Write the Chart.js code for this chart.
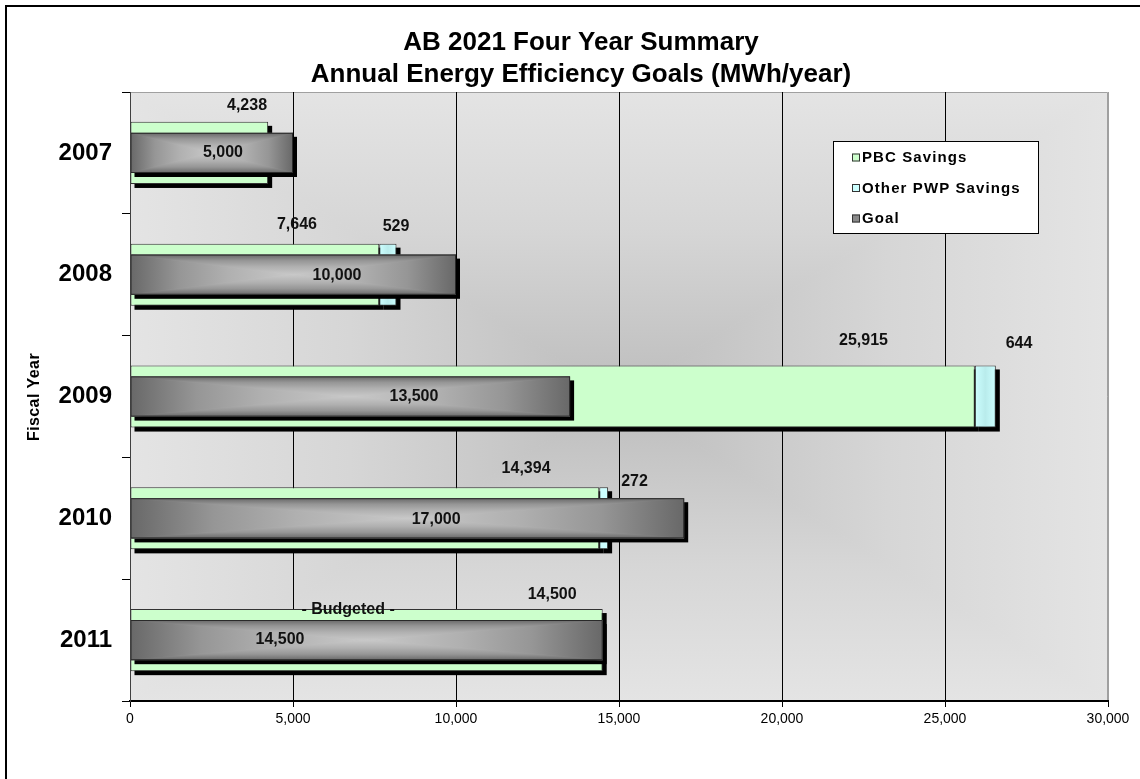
<!DOCTYPE html>
<html>
<head>
<meta charset="utf-8">
<title>AB 2021 Four Year Summary</title>
<script src="https://cdn.jsdelivr.net/npm/chart.js@4.4.1/dist/chart.umd.min.js"></script>
<style>
  html, body { margin: 0; padding: 0; background: #fff; }
  canvas { display: block; }
</style>
</head>
<body>
<canvas id="chart" width="1140" height="779"></canvas>
<script>
// ---- data (MWh/year) ----
const years = ['2007', '2008', '2009', '2010', '2011'];
const pbcSavings = [4238, 7646, 25915, 14394, 14500];
const otherPwpSavings = [0, 529, 644, 272, 0];
const goal = [5000, 10000, 13500, 17000, 14500];
const xTickValues = [0, 5000, 10000, 15000, 20000, 25000, 30000];
const yearNotes = [null, null, null, null, '- Budgeted -'];

// ---- where each value label sits: anchor on the value axis + vertical nudge (px) ----
const labelPlacement = {
  pbc:   { at: [3590, 5120, 22500, 12150, 12950], dy: [-47, -50, -56, -50, -46] },
  other: { at: [null, 8160, 27270, 15475, null],  dy: [0, -48, -53, -37, 0] },
  goal:  { at: [2850, 6350, 8710, 9390, 4600],    dy: [0, 1, 0, 1, -1] },
  note:  { at: [null, null, null, null, 6690],    dy: [0, 0, 0, 0, -31] }
};

const FONT = '"Liberation Sans", Arial, Helvetica, sans-serif';
Chart.defaults.font.family = FONT;

const fmt = v => v.toLocaleString('en-US');

// Rectangular "from centre" gradient: four wedges, each with its own linear ramp.
// stops: [offset, colour] with offset 0 = outer edge, 1 = centre.
function fillFromCenter(ctx, l, t, r, b, stops) {
  const cx = (l + r) / 2, cy = (t + b) / 2;
  const wedges = [
    [l, t, l, b, l, cy],
    [r, t, r, b, r, cy],
    [l, t, r, t, cx, t],
    [l, b, r, b, cx, b]
  ];
  ctx.save();
  ctx.beginPath();
  ctx.rect(l, t, r - l, b - t);
  ctx.clip();
  for (const [x1, y1, x2, y2, ex, ey] of wedges) {
    const g = ctx.createLinearGradient(ex, ey, cx, cy);
    stops.forEach(([o, c]) => g.addColorStop(o, c));
    ctx.beginPath();
    ctx.moveTo(x1, y1);
    ctx.lineTo(x2, y2);
    ctx.lineTo(cx, cy);
    ctx.closePath();
    ctx.fillStyle = g;
    ctx.strokeStyle = g;
    ctx.lineWidth = 1;
    ctx.fill();
    ctx.stroke();
  }
  ctx.restore();
}

function barRect(el) {
  const p = el.getProps(['x', 'y', 'base', 'height'], true);
  return {
    l: Math.min(p.x, p.base), r: Math.max(p.x, p.base),
    t: p.y - p.height / 2, b: p.y + p.height / 2
  };
}

const SHADOW = 4;

function drawShadows(chart, dsIndex) {
  const ctx = chart.ctx;
  const meta = chart.getDatasetMeta(dsIndex);
  const values = chart.data.datasets[dsIndex].data;
  ctx.save();
  ctx.fillStyle = '#000';
  meta.data.forEach((el, i) => {
    if (values[i] == null) return;
    const r = barRect(el);
    ctx.fillRect(r.l + SHADOW, r.t + SHADOW, r.r - r.l, r.b - r.t);
  });
  ctx.restore();
}

// Page frame, plot-area gradient and plot border
const backdrop = {
  id: 'backdrop',
  beforeDraw(chart) {
    const { ctx, chartArea: a } = chart;
    ctx.save();
    ctx.fillStyle = '#fff';
    ctx.fillRect(0, 0, chart.width, chart.height);
    ctx.strokeStyle = '#000';
    ctx.lineWidth = 2;
    ctx.strokeRect(6, 6, chart.width + 40, chart.height + 40);
    fillFromCenter(ctx, a.left, a.top, a.right, a.bottom, [
      [0, '#e4e4e4'], [0.45, '#d6d6d6'], [1, '#bdbdbd']
    ]);
    ctx.strokeStyle = '#a0a0a0';
    ctx.lineWidth = 1;
    ctx.beginPath();
    ctx.moveTo(a.left, a.top + 0.5);
    ctx.lineTo(a.right - 0.5, a.top + 0.5);
    ctx.lineTo(a.right - 0.5, a.bottom);
    ctx.stroke();
    ctx.restore();
  }
};

// Drop shadows under the bars and shaded fill for the goal bars
const barShading = {
  id: 'barShading',
  beforeDatasetsDraw(chart) {
    chart.data.datasets.forEach((ds, i) => {
      if (ds.stack === 'savings') drawShadows(chart, i);
    });
  },
  beforeDatasetDraw(chart, args) {
    if (chart.data.datasets[args.index].stack === 'goal') drawShadows(chart, args.index);
  },
  afterDatasetDraw(chart, args) {
    const ds = chart.data.datasets[args.index];
    const ctx = chart.ctx;
    if (ds.stack === 'goal') {
      args.meta.data.forEach((el, i) => {
        if (ds.data[i] == null) return;
        const r = barRect(el);
        fillFromCenter(ctx, r.l, r.t, r.r, r.b, [
          [0, '#686868'], [0.3, '#969696'], [0.6, '#b0b0b0'], [1, '#c8c8c8']
        ]);
        ctx.save();
        ctx.strokeStyle = '#2a2a2a';
        ctx.lineWidth = 1;
        ctx.strokeRect(r.l + 0.5, r.t + 0.5, r.r - r.l - 1, r.b - r.t - 1);
        ctx.restore();
      });
    } else if (ds.label === 'Other PWP Savings') {
      // soft centre shading on the cyan segments
      args.meta.data.forEach((el, i) => {
        if (ds.data[i] == null) return;
        const r = barRect(el);
        const w = r.r - r.l;
        if (w < 10) return;
        const g = ctx.createLinearGradient(r.l, 0, r.r, 0);
        g.addColorStop(0, 'rgba(150,200,200,0)');
        g.addColorStop(0.5, 'rgba(150,200,200,0.35)');
        g.addColorStop(1, 'rgba(150,200,200,0)');
        ctx.save();
        ctx.fillStyle = g;
        ctx.fillRect(r.l + 1, r.t + 1, w - 2, r.b - r.t - 2);
        ctx.restore();
      });
    }
  }
};

// Value labels, title, axis caption and legend box
const annotations = {
  id: 'annotations',
  afterDraw(chart) {
    const ctx = chart.ctx;
    const xs = chart.scales.x, ys = chart.scales.y;
    ctx.save();
    ctx.fillStyle = '#111';
    ctx.textAlign = 'center';
    ctx.textBaseline = 'middle';
    ctx.font = 'bold 16px ' + FONT;
    const put = (text, value, i, dy) => {
      ctx.fillText(text, xs.getPixelForValue(value), ys.getPixelForValue(i) + dy);
    };
    years.forEach((_, i) => {
      put(fmt(pbcSavings[i]), labelPlacement.pbc.at[i], i, labelPlacement.pbc.dy[i]);
      if (otherPwpSavings[i] > 0) put(fmt(otherPwpSavings[i]), labelPlacement.other.at[i], i, labelPlacement.other.dy[i]);
      put(fmt(goal[i]), labelPlacement.goal.at[i], i, labelPlacement.goal.dy[i]);
      if (yearNotes[i]) put(yearNotes[i], labelPlacement.note.at[i], i, labelPlacement.note.dy[i]);
    });

    // Title
    ctx.fillStyle = '#000';
    ctx.font = 'bold 26px ' + FONT;
    ctx.fillText('AB 2021 Four Year Summary', 581, 43);
    ctx.fillText('Annual Energy Efficiency Goals (MWh/year)', 581, 75);

    // Axis caption
    ctx.save();
    ctx.translate(35, 397);
    ctx.rotate(-Math.PI / 2);
    ctx.font = 'bold 16px ' + FONT;
    if ('letterSpacing' in ctx) ctx.letterSpacing = '0.4px';
    ctx.fillText('Fiscal Year', 0, 0);
    ctx.restore();

    // Legend box
    const box = { x: 833, y: 141, w: 206, h: 93 };
    ctx.fillStyle = '#fff';
    ctx.fillRect(box.x, box.y, box.w, box.h);
    ctx.strokeStyle = '#000';
    ctx.lineWidth = 1;
    ctx.strokeRect(box.x + 0.5, box.y + 0.5, box.w - 1, box.h - 1);
    const items = [chart.data.datasets[1], chart.data.datasets[2], chart.data.datasets[0]];
    ctx.font = 'bold 15px ' + FONT;
    ctx.textAlign = 'left';
    if ('letterSpacing' in ctx) ctx.letterSpacing = '1.1px';
    items.forEach((ds, k) => {
      const cy = box.y + 16 + k * 30.5;
      ctx.fillStyle = ds.legendColor;
      ctx.fillRect(852, cy - 3.5, 8, 8);
      ctx.strokeStyle = '#333';
      ctx.strokeRect(852.5, cy - 3, 7, 7);
      ctx.fillStyle = '#000';
      ctx.fillText(ds.label, 862, cy + 1);
    });
    ctx.restore();
  }
};

new Chart(document.getElementById('chart'), {
  type: 'bar',
  data: {
    labels: years,
    datasets: [
      {
        label: 'Goal',
        data: goal,
        stack: 'goal',
        grouped: false,
        backgroundColor: '#8a8a8a',
        legendColor: '#8a8a8a',
        borderColor: '#2a2a2a',
        borderWidth: 1,
        borderSkipped: false,
        categoryPercentage: 1,
        barPercentage: 0.33
      },
      {
        label: 'PBC Savings',
        data: pbcSavings,
        stack: 'savings',
        grouped: false,
        backgroundColor: '#ccffcc',
        legendColor: '#ccffcc',
        borderColor: '#333',
        borderWidth: 1,
        borderSkipped: false,
        categoryPercentage: 1,
        barPercentage: 0.51
      },
      {
        label: 'Other PWP Savings',
        data: otherPwpSavings.map(v => (v > 0 ? v : null)),
        stack: 'savings',
        grouped: false,
        backgroundColor: '#ccffff',
        legendColor: '#ccffff',
        borderColor: '#333',
        borderWidth: 1,
        borderSkipped: false,
        categoryPercentage: 1,
        barPercentage: 0.51
      }
    ]
  },
  options: {
    indexAxis: 'y',
    responsive: false,
    animation: false,
    events: [],
    layout: { padding: { top: 92, right: 32, bottom: 0, left: 0 } },
    scales: {
      x: {
        stacked: true,
        min: 0,
        max: 30000,
        afterBuildTicks: scale => { scale.ticks = xTickValues.map(v => ({ value: v })); },
        afterFit: scale => { scale.height = 78; },
        ticks: {
          callback: v => fmt(v),
          color: '#000',
          font: { size: 14 },
          padding: 4,
          maxRotation: 0
        },
        grid: {
          color: c => (c.tick && c.tick.value === 30000 ? '#a0a0a0' : '#000'),
          tickColor: '#000',
          lineWidth: 1,
          tickLength: 6
        },
        border: { color: '#000', width: 2 }
      },
      y: {
        afterFit: scale => { scale.width = 130; },
        ticks: {
          color: '#000',
          font: { size: 24, weight: 'bold' },
          padding: 10
        },
        grid: {
          drawOnChartArea: false,
          offset: true,
          color: '#000',
          tickLength: 8
        },
        border: { color: '#404040', width: 1 }
      }
    },
    plugins: {
      legend: { display: false },
      title: { display: false },
      tooltip: { enabled: false }
    }
  },
  plugins: [backdrop, barShading, annotations]
});
</script>
</body>
</html>
